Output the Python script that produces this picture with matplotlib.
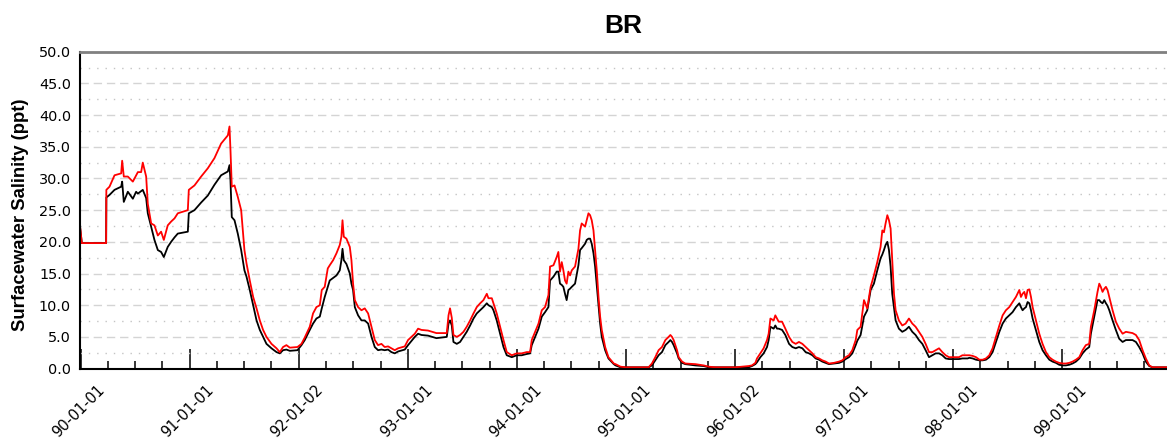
import matplotlib
matplotlib.use('Agg')
import matplotlib.pyplot as plt
from matplotlib.ticker import FixedLocator, FixedFormatter, MultipleLocator, FormatStrFormatter

plt.rcParams['font.family'] = ['Liberation Sans', 'DejaVu Sans']

# x axis labels (one per January)
years = [1990, 1991, 1992, 1993, 1994, 1995, 1996, 1997, 1998, 1999]
year_labels = ['90-01-01', '91-01-01', '92-01-02', '93-01-01', '94-01-01',
               '95-01-01', '96-01-02', '97-01-01', '98-01-01', '99-01-01']

# time in decimal years
time = [
    1989.745, 1989.761, 1989.984, 1989.986, 1990.015, 1990.061, 1990.122, 1990.131, 1990.146, 1990.183,
    1990.229, 1990.259, 1990.275, 1990.305, 1990.320, 1990.351, 1990.366, 1990.397, 1990.427, 1990.458,
    1990.488, 1990.513, 1990.549, 1990.580, 1990.611, 1990.641, 1990.733, 1990.742, 1990.794, 1990.855,
    1990.916, 1990.977, 1991.038, 1991.100, 1991.115, 1991.124, 1991.136, 1991.161, 1991.191, 1991.222,
    1991.252, 1991.271, 1991.301, 1991.332, 1991.363, 1991.393, 1991.423, 1991.454, 1991.500, 1991.546,
    1991.576, 1991.606, 1991.637, 1991.668, 1991.738, 1991.775, 1991.805, 1991.851, 1991.881, 1991.912,
    1991.943, 1991.961, 1991.988, 1992.016, 1992.034, 1992.065, 1992.096, 1992.126, 1992.141, 1992.151,
    1992.163, 1992.187, 1992.218, 1992.233, 1992.248, 1992.264, 1992.294, 1992.325, 1992.355, 1992.386,
    1992.417, 1992.447, 1992.477, 1992.508, 1992.538, 1992.569, 1992.599, 1992.630, 1992.661, 1992.722,
    1992.752, 1992.814, 1992.844, 1992.875, 1992.935, 1993.012, 1993.107, 1993.123, 1993.137, 1993.153,
    1993.168, 1993.199, 1993.229, 1993.260, 1993.290, 1993.321, 1993.352, 1993.382, 1993.413, 1993.443,
    1993.474, 1993.489, 1993.520, 1993.535, 1993.565, 1993.596, 1993.627, 1993.657, 1993.703, 1993.749,
    1993.794, 1993.840, 1993.871, 1993.886, 1993.917, 1993.948, 1993.978, 1994.008, 1994.039, 1994.054,
    1994.085, 1994.115, 1994.130, 1994.145, 1994.161, 1994.176, 1994.191, 1994.206, 1994.222, 1994.237,
    1994.253, 1994.283, 1994.314, 1994.329, 1994.344, 1994.375, 1994.390, 1994.406, 1994.421, 1994.436,
    1994.452, 1994.467, 1994.483, 1994.498, 1994.513, 1994.528, 1994.559, 1994.589, 1994.638, 1994.654,
    1994.700, 1994.746, 1994.957, 1994.988, 1995.019, 1995.049, 1995.080, 1995.111, 1995.141, 1995.157,
    1995.172, 1995.187, 1995.218, 1995.233, 1995.264, 1995.294, 1995.386, 1995.462, 1995.508, 1995.569,
    1995.753, 1995.814, 1995.875, 1995.905, 1995.936, 1995.951, 1995.982, 1996.012, 1996.043, 1996.058,
    1996.074, 1996.104, 1996.119, 1996.135, 1996.150, 1996.181, 1996.211, 1996.245, 1996.275, 1996.306,
    1996.336, 1996.367, 1996.397, 1996.428, 1996.459, 1996.489, 1996.520, 1996.550, 1996.581, 1996.611,
    1996.657, 1996.703, 1996.733, 1996.764, 1996.794, 1996.825, 1996.856, 1996.871, 1996.901, 1996.932,
    1996.962, 1996.993, 1997.023, 1997.054, 1997.084, 1997.100, 1997.115, 1997.130, 1997.146, 1997.161,
    1997.176, 1997.191, 1997.207, 1997.222, 1997.252, 1997.283, 1997.314, 1997.344, 1997.375, 1997.405,
    1997.436, 1997.467, 1997.497, 1997.528, 1997.559, 1997.589, 1997.620, 1997.650, 1997.681, 1997.711,
    1997.803, 1997.834, 1997.882, 1997.898, 1997.928, 1997.959, 1997.990, 1998.020, 1998.050, 1998.081,
    1998.111, 1998.142, 1998.173, 1998.203, 1998.233, 1998.264, 1998.294, 1998.325, 1998.356, 1998.371,
    1998.386, 1998.402, 1998.417, 1998.432, 1998.448, 1998.463, 1998.478, 1998.508, 1998.539, 1998.569,
    1998.600, 1998.631, 1998.661, 1998.692, 1998.722, 1998.753, 1998.783, 1998.814, 1998.844, 1998.875,
    1998.906, 1998.936, 1998.966, 1998.997, 1999.012, 1999.043, 1999.073, 1999.089, 1999.103, 1999.119,
    1999.135, 1999.150, 1999.165, 1999.181, 1999.211, 1999.241, 1999.272, 1999.303, 1999.333, 1999.394,
    1999.425, 1999.455, 1999.486, 1999.516, 1999.547, 1999.577, 1999.705,
]

# red series (upper)
salinity_red = [
    22.4, 19.8, 19.8, 28.2, 28.7, 30.5, 30.8, 32.8, 30.3, 30.3,
    29.5, 30.5, 31.0, 31.0, 32.5, 30.3, 26.0, 22.9, 22.6, 21.0,
    21.6, 20.3, 22.6, 23.2, 23.7, 24.5, 25.0, 28.2, 28.9, 30.3,
    31.6, 33.2, 35.5, 36.8, 38.2, 34.5, 28.7, 28.9, 27.1, 25.0,
    18.7, 16.6, 13.9, 11.3, 9.5, 7.6, 6.1, 5.0, 3.9, 3.2,
    2.6, 3.4, 3.7, 3.3, 3.4, 3.9, 4.9, 6.6, 8.7, 9.7,
    10.0, 12.4, 12.9, 15.8, 16.3, 17.1, 18.2, 19.5, 20.8, 23.4,
    20.8, 20.5, 19.2, 17.1, 13.4, 10.8, 9.7, 9.2, 9.5, 8.7,
    6.6, 4.5, 3.7, 3.9, 3.4, 3.5, 3.2, 2.9, 3.2, 3.5,
    4.5, 5.5, 6.3, 6.1, 6.0, 5.6, 5.6, 8.4, 9.5, 8.0,
    5.3, 5.0, 5.3, 5.8, 6.6, 7.6, 8.7, 9.7, 10.3, 10.8,
    11.8, 11.1, 11.1, 10.3, 8.7, 6.6, 4.5, 2.6, 2.1, 2.4,
    2.4, 2.6, 2.6, 4.5, 5.8, 7.1, 9.2, 9.7, 11.6, 16.1,
    16.3, 17.6, 18.4, 15.3, 16.8, 15.5, 13.9, 13.4, 15.3, 14.7,
    15.5, 16.1, 18.9, 21.8, 22.9, 22.4, 23.4, 24.5, 24.2, 23.4,
    21.8, 18.7, 15.3, 11.3, 8.2, 6.1, 3.4, 1.8, 0.8, 0.7,
    0.3, 0.2, 0.2, 0.8, 1.8, 2.9, 3.4, 4.5, 5.0, 5.3,
    5.0, 4.5, 2.9, 1.8, 1.1, 0.8, 0.7, 0.5, 0.3, 0.2,
    0.2, 0.3, 0.4, 0.5, 0.9, 1.6, 2.4, 3.2, 4.5, 5.5,
    7.9, 7.6, 8.4, 7.9, 7.4, 7.4, 6.3, 5.0, 4.2, 3.9,
    4.2, 3.9, 3.4, 2.9, 2.4, 1.8, 1.6, 1.3, 1.1, 0.8,
    0.9, 1.1, 1.3, 1.8, 2.1, 2.9, 4.5, 6.1, 6.6, 10.8,
    9.5, 12.9, 14.7, 16.8, 19.2, 21.8, 21.5, 22.9, 24.2, 23.4,
    22.1, 17.1, 11.8, 9.2, 7.6, 6.8, 7.1, 7.9, 7.1, 6.6,
    5.8, 5.0, 3.9, 2.6, 2.6, 2.9, 3.2, 2.6, 2.1, 1.8,
    1.8, 2.1, 2.1, 2.1, 2.0, 1.8, 1.4, 1.4, 1.6, 2.1,
    3.2, 5.0, 6.8, 8.4, 9.2, 9.7, 10.5, 11.3, 12.4, 11.3,
    11.8, 12.1, 11.1, 12.4, 12.5, 11.3, 9.7, 7.6, 5.5, 3.9,
    2.6, 1.8, 1.4, 1.1, 0.9, 0.8, 0.8, 0.9, 1.1, 1.4,
    1.8, 2.9, 3.7, 3.9, 6.6, 9.2, 12.1, 13.4, 12.9, 12.1,
    12.6, 12.9, 12.4, 11.3, 9.2, 7.4, 6.3, 5.5, 5.8, 5.6,
    5.3, 4.5, 2.9, 1.6, 0.5, 0.2, 0.2,
]

# black series (lower)
salinity_black = [
    22.4, 19.8, 19.8, 27.0, 27.4, 28.2, 28.7, 29.5, 26.3, 27.9,
    26.8, 27.9, 27.6, 28.0, 28.2, 26.9, 24.5, 22.4, 20.3, 18.7,
    18.4, 17.6, 19.2, 20.0, 20.7, 21.3, 21.6, 24.5, 25.0, 26.2,
    27.3, 29.0, 30.5, 31.1, 32.1, 29.7, 23.9, 23.4, 21.3, 18.7,
    15.5, 14.5, 12.4, 10.0, 7.6, 6.1, 5.0, 3.9, 3.2, 2.6,
    2.4, 2.9, 3.0, 2.8, 2.9, 3.7, 4.5, 6.1, 7.1, 7.9,
    8.2, 9.5, 11.3, 12.9, 13.9, 14.3, 14.7, 15.5, 17.1, 18.9,
    17.1, 16.5, 15.0, 13.4, 12.4, 9.7, 8.4, 7.6, 7.6, 7.1,
    5.0, 3.4, 2.9, 3.0, 2.9, 3.0, 2.6, 2.4, 2.7, 3.0,
    3.7, 5.0, 5.5, 5.3, 5.2, 4.8, 5.0, 7.1, 7.6, 6.8,
    4.2, 3.9, 4.2, 5.0, 5.8, 6.8, 7.9, 8.7, 9.2, 9.7,
    10.3, 10.0, 9.7, 9.2, 7.6, 5.5, 3.4, 2.1, 1.8, 2.1,
    2.1, 2.3, 2.4, 3.7, 5.0, 6.3, 8.2, 8.9, 9.7, 13.9,
    14.5, 15.3, 15.3, 13.4, 13.2, 12.9, 11.8, 10.8, 12.4, 12.6,
    12.9, 13.4, 16.3, 18.7, 19.0, 19.7, 20.3, 20.5, 20.5, 19.7,
    18.2, 16.1, 12.9, 9.7, 7.1, 5.0, 2.9, 1.6, 0.7, 0.5,
    0.2, 0.2, 0.2, 0.5, 1.3, 2.1, 2.6, 3.7, 4.2, 4.5,
    4.2, 3.7, 2.4, 1.6, 0.9, 0.7, 0.5, 0.4, 0.2, 0.2,
    0.2, 0.2, 0.2, 0.4, 0.7, 1.0, 1.8, 2.4, 3.4, 4.5,
    6.6, 6.3, 6.8, 6.3, 6.3, 6.1, 5.3, 3.9, 3.4, 3.2,
    3.4, 3.2, 2.6, 2.4, 2.1, 1.6, 1.4, 1.1, 0.9, 0.7,
    0.8, 0.9, 1.1, 1.5, 1.8, 2.4, 3.7, 4.4, 5.3, 8.2,
    9.2, 12.4, 13.4, 15.5, 17.4, 18.0, 18.7, 19.5, 20.0, 18.7,
    16.1, 11.8, 9.7, 7.6, 6.3, 5.8, 6.1, 6.6, 5.8, 5.3,
    4.5, 3.9, 2.9, 1.8, 2.1, 2.4, 2.4, 2.1, 1.6, 1.5,
    1.5, 1.6, 1.6, 1.7, 1.6, 1.4, 1.3, 1.3, 1.4, 1.8,
    2.6, 4.2, 5.8, 7.1, 7.9, 8.4, 8.9, 9.7, 10.3, 9.7,
    9.2, 9.5, 9.7, 10.5, 10.3, 9.2, 7.9, 6.1, 4.2, 2.9,
    2.1, 1.4, 1.1, 0.9, 0.6, 0.5, 0.5, 0.6, 0.8, 1.1,
    1.6, 2.4, 3.0, 3.4, 5.5, 8.2, 10.8, 10.8, 10.5, 10.3,
    10.8, 10.3, 9.9, 9.2, 7.6, 6.1, 4.7, 4.2, 4.5, 4.5,
    4.2, 3.4, 2.4, 1.1, 0.4, 0.2, 0.2,
]

fig = plt.figure(figsize=(11.67, 4.43), dpi=100)
ax = fig.add_axes([0.0686, 0.168, 0.9314, 0.7153])

ax.plot(time, salinity_black, color='black', linewidth=1.3)
ax.plot(time, salinity_red, color='#ff0000', linewidth=1.3)

ax.set_xlim(1989.745, 1999.71)
ax.set_ylim(0, 50)

# y axis: dashed grid every 5, dotted in between
ax.yaxis.set_major_locator(MultipleLocator(5))
ax.yaxis.set_minor_locator(MultipleLocator(2.5))
ax.yaxis.set_major_formatter(FormatStrFormatter('%.1f'))
ax.grid(axis='y', which='major', color='#d4d4d4', linestyle=(0, (6, 3.5)), linewidth=1.0)
ax.grid(axis='y', which='minor', color='#c4c4c4', linestyle=(0, (1, 5)), linewidth=1.0)
ax.set_axisbelow(True)
ax.tick_params(axis='y', which='both', length=0, pad=6.5)
for lbl in ax.get_yticklabels():
    lbl.set_family('DejaVu Sans')
    lbl.set_fontsize(10.4)

# x axis: tall ticks each October, short quarterly ticks carrying the January labels
oct_ticks = [y - 0.25 for y in years]
quarter_ticks = [y + q for y in years for q in (0.0, 0.25, 0.5)]
quarter_labels = [lab if q == 0.0 else '' for lab in year_labels for q in (0.0, 0.25, 0.5)]
ax.xaxis.set_major_locator(FixedLocator(oct_ticks))
ax.xaxis.set_major_formatter(FixedFormatter([''] * len(oct_ticks)))
ax.xaxis.set_minor_locator(FixedLocator(quarter_ticks))
ax.xaxis.set_minor_formatter(FixedFormatter(quarter_labels))
ax.tick_params(axis='x', which='major', direction='in', length=14.4, width=1.1, color='black')
ax.tick_params(axis='x', which='minor', direction='in', length=5.8, width=1.1, color='black', pad=10.0)
for lbl in ax.get_xticklabels(minor=True):
    lbl.set_rotation(45)
    lbl.set_ha('right')
    lbl.set_va('top')
    lbl.set_family('DejaVu Sans')
    lbl.set_fontsize(10.6)

for side in ('left', 'bottom'):
    ax.spines[side].set_color('black')
    ax.spines[side].set_linewidth(1.5)
ax.spines['top'].set_color('#808080')
ax.spines['top'].set_linewidth(2.0)
ax.spines['right'].set_visible(False)

ax.set_title('BR', fontsize=19, fontweight='bold', pad=13.5)
ax.set_ylabel('Surfacewater Salinity (ppt)', fontsize=13.3, fontweight='bold')
ax.yaxis.set_label_coords(-0.047, 0.485)

fig.savefig('out.png', dpi=100)
